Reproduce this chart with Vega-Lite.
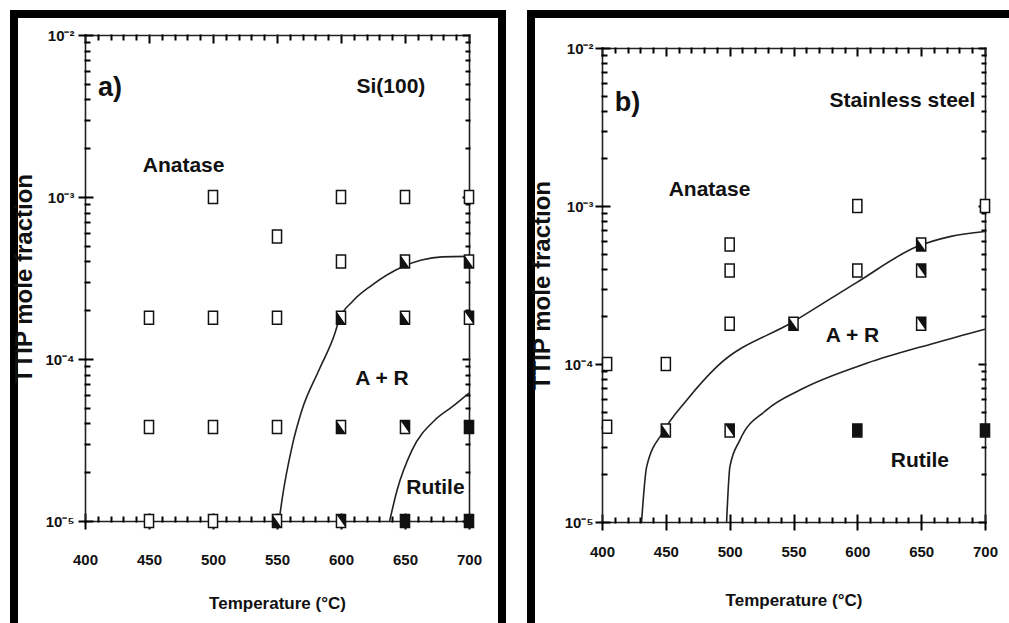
{
  "$schema": "https://vega.github.io/schema/vega-lite/v6.json",
  "background": "white",
  "padding": {"left": 8, "top": 10, "right": 0, "bottom": 0},
  "spacing": 20,
  "datasets": {
    "ptsA": [
      {"t": 450, "f": 1.8e-4, "type": "A"}, {"t": 450, "f": 3.8e-5, "type": "A"}, {"t": 450, "f": 1e-5, "type": "A"},
      {"t": 500, "f": 1e-3, "type": "A"}, {"t": 500, "f": 1.8e-4, "type": "A"}, {"t": 500, "f": 3.8e-5, "type": "A"}, {"t": 500, "f": 1e-5, "type": "A"},
      {"t": 550, "f": 5.7e-4, "type": "A"}, {"t": 550, "f": 1.8e-4, "type": "A"}, {"t": 550, "f": 3.8e-5, "type": "A"},
      {"t": 600, "f": 1e-3, "type": "A"}, {"t": 600, "f": 4e-4, "type": "A"}, {"t": 650, "f": 1e-3, "type": "A"}, {"t": 700, "f": 1e-3, "type": "A"},
      {"t": 550, "f": 1e-5, "type": "M1"}, {"t": 600, "f": 1.8e-4, "type": "M1"}, {"t": 600, "f": 3.8e-5, "type": "M1"},
      {"t": 650, "f": 4e-4, "type": "M1"}, {"t": 650, "f": 1.8e-4, "type": "M1"}, {"t": 700, "f": 4e-4, "type": "M1"},
      {"t": 700, "f": 1.8e-4, "type": "M2"}, {"t": 650, "f": 3.8e-5, "type": "M2"}, {"t": 600, "f": 1e-5, "type": "M2"},
      {"t": 700, "f": 3.8e-5, "type": "R"}, {"t": 650, "f": 1e-5, "type": "R"}, {"t": 700, "f": 1e-5, "type": "R"}
    ],
    "ptsB": [
      {"t": 404, "f": 1e-4, "type": "A"}, {"t": 404, "f": 4e-5, "type": "A"}, {"t": 450, "f": 1e-4, "type": "A"},
      {"t": 500, "f": 5.7e-4, "type": "A"}, {"t": 500, "f": 3.9e-4, "type": "A"}, {"t": 500, "f": 1.8e-4, "type": "A"},
      {"t": 600, "f": 1e-3, "type": "A"}, {"t": 600, "f": 3.9e-4, "type": "A"}, {"t": 700, "f": 1e-3, "type": "A"},
      {"t": 450, "f": 3.8e-5, "type": "M1"}, {"t": 550, "f": 1.8e-4, "type": "M1"}, {"t": 650, "f": 5.7e-4, "type": "M1"},
      {"t": 500, "f": 3.8e-5, "type": "M2"}, {"t": 650, "f": 3.9e-4, "type": "M2"}, {"t": 650, "f": 1.8e-4, "type": "M2"},
      {"t": 600, "f": 3.8e-5, "type": "R"}, {"t": 700, "f": 3.8e-5, "type": "R"}
    ],
    "curvesA": [
      {"c": "1", "t": 551.6, "f": 1e-5}, {"c": "1", "t": 553.9, "f": 1.35e-5}, {"c": "1", "t": 561.7, "f": 2.87e-5},
      {"c": "1", "t": 569.5, "f": 4.84e-5}, {"c": "1", "t": 582.8, "f": 8.55e-5}, {"c": "1", "t": 595.3, "f": 1.445e-4},
      {"c": "1", "t": 598.4, "f": 1.74e-4}, {"c": "1", "t": 608.6, "f": 2.25e-4}, {"c": "1", "t": 624.2, "f": 2.86e-4}, {"c": "1", "t": 647.7, "f": 3.7e-4},
      {"c": "1", "t": 663, "f": 4.08e-4}, {"c": "1", "t": 678.9, "f": 4.27e-4}, {"c": "1", "t": 700, "f": 4.3e-4},
      {"c": "2", "t": 638, "f": 1e-5}, {"c": "2", "t": 643.8, "f": 1.55e-5}, {"c": "2", "t": 655.5, "f": 2.74e-5},
      {"c": "2", "t": 673.4, "f": 4.2e-5}, {"c": "2", "t": 686.7, "f": 5.06e-5}, {"c": "2", "t": 700, "f": 6.17e-5}
    ],
    "curvesB": [
      {"c": "1", "t": 431, "f": 1e-5}, {"c": "1", "t": 435, "f": 2.24e-5}, {"c": "1", "t": 448, "f": 3.73e-5},
      {"c": "1", "t": 466.3, "f": 5.9e-5}, {"c": "1", "t": 489.8, "f": 9.6e-5}, {"c": "1", "t": 549.8, "f": 1.85e-4},
      {"c": "1", "t": 600, "f": 3.3e-4}, {"c": "1", "t": 646.4, "f": 5.52e-4}, {"c": "1", "t": 672.5, "f": 6.4e-4},
      {"c": "1", "t": 700, "f": 6.9e-4},
      {"c": "2", "t": 497.6, "f": 1e-5}, {"c": "2", "t": 500.2, "f": 2.24e-5}, {"c": "2", "t": 508, "f": 3.3e-5},
      {"c": "2", "t": 529, "f": 5.12e-5}, {"c": "2", "t": 555, "f": 6.84e-5}, {"c": "2", "t": 607.3, "f": 1.01e-4},
      {"c": "2", "t": 659.5, "f": 1.35e-4}, {"c": "2", "t": 700, "f": 1.66e-4}
    ],
    "txtA": [
      {"t": 419.5, "f": 4.7e-3, "label": "a)", "kind": "panel"},
      {"t": 639, "f": 4.77e-3, "label": "Si(100)", "kind": "region"},
      {"t": 477, "f": 1.55e-3, "label": "Anatase", "kind": "region"},
      {"t": 632, "f": 7.54e-5, "label": "A + R", "kind": "region"},
      {"t": 673.8, "f": 1.6e-5, "label": "Rutile", "kind": "region"}
    ],
    "txtB": [
      {"t": 420, "f": 4.49e-3, "label": "b)", "kind": "panel"},
      {"t": 635.3, "f": 4.63e-3, "label": "Stainless steel", "kind": "region"},
      {"t": 484.2, "f": 1.26e-3, "label": "Anatase", "kind": "region"},
      {"t": 596.2, "f": 1.5e-4, "label": "A + R", "kind": "region"},
      {"t": 649, "f": 2.43e-5, "label": "Rutile", "kind": "region"}
    ]
  },
  "hconcat": [
    {
      "width": 488,
      "height": 617,
      "resolve": {"axis": {"x": "independent", "y": "independent"}},
      "layer": [
        {
          "data": {"name": "curvesA"},
          "mark": {"type": "line", "interpolate": "monotone", "color": "#222", "strokeWidth": 1.6},
          "encoding": {
            "x": {"field": "t", "type": "quantitative", "scale": {"domain": [400, 700], "range": [71, 455], "nice": false, "zero": false},
              "axis": {"orient": "bottom", "offset": -110, "values": [400, 450, 500, 550, 600, 650, 700], "ticks": true, "tickSize": 7, "labelPadding": 24, "title": "Temperature (°C)", "titlePadding": 28}},
            "y": {"field": "f", "type": "quantitative", "scale": {"type": "log", "domain": [1e-5, 1e-2], "range": [507, 21], "nice": false},
              "axis": {"orient": "left", "offset": -71, "values": [1e-5, 1e-4, 1e-3, 1e-2], "ticks": true, "tickSize": 6, "labelPadding": 5, "labelFontSize": 15,
                "labelExpr": "datum.value < 2e-5 ? '10⁻⁵' : datum.value < 2e-4 ? '10⁻⁴' : datum.value < 2e-3 ? '10⁻³' : '10⁻²'",
                "title": "TTIP mole fraction", "titlePadding": 8, "titleFontSize": 24}},
            "detail": {"field": "c"}
          }
        },
        {
          "data": {"name": "ptsA"},
          "mark": {"type": "point", "shape": "M-0.7,-1L0.7,-1L0.7,1L-0.7,1Z", "filled": true, "size": 169, "stroke": "#111", "strokeWidth": 1.5, "opacity": 1},
          "encoding": {
            "x": {"field": "t", "type": "quantitative", "scale": {"domain": [400, 700], "range": [71, 455], "nice": false, "zero": false},
              "axis": {"orient": "bottom", "offset": -110, "values": [410, 420, 430, 440, 460, 470, 480, 490, 510, 520, 530, 540, 560, 570, 580, 590, 610, 620, 630, 640, 660, 670, 680, 690], "ticks": true, "tickSize": -4, "labels": false, "domain": false, "title": null}},
            "y": {"field": "f", "type": "quantitative", "scale": {"type": "log", "domain": [1e-5, 1e-2], "range": [507, 21], "nice": false},
              "axis": {"orient": "left", "offset": -71, "values": [2e-5, 3e-5, 4e-5, 5e-5, 6e-5, 7e-5, 8e-5, 9e-5, 2e-4, 3e-4, 4e-4, 5e-4, 6e-4, 7e-4, 8e-4, 9e-4, 2e-3, 3e-3, 4e-3, 5e-3, 6e-3, 7e-3, 8e-3, 9e-3], "ticks": true, "tickSize": -4, "labels": false, "domain": false, "title": null}},
            "fill": {"condition": {"test": "datum.type === 'R'", "value": "#111"}, "value": "white"}
          }
        },
        {
          "data": {"name": "ptsA"},
          "transform": [{"filter": "datum.type === 'M1'"}],
          "mark": {"type": "point", "shape": "M-0.7,-1L-0.7,1L0.7,1Z", "filled": true, "size": 169, "color": "#111", "strokeWidth": 0, "opacity": 1},
          "encoding": {
            "x": {"field": "t", "type": "quantitative", "scale": {"domain": [400, 700], "range": [71, 455], "nice": false, "zero": false},
              "axis": {"orient": "top", "offset": -21, "values": [400, 450, 500, 550, 600, 650, 700], "ticks": true, "tickSize": -7, "labels": false, "domain": true, "title": null}},
            "y": {"field": "f", "type": "quantitative", "scale": {"type": "log", "domain": [1e-5, 1e-2], "range": [507, 21], "nice": false},
              "axis": {"orient": "right", "offset": -33, "values": [1e-5, 1e-4, 1e-3, 1e-2], "ticks": true, "tickSize": -6, "labels": false, "domain": true, "title": null}}
          }
        },
        {
          "data": {"name": "ptsA"},
          "transform": [{"filter": "datum.type === 'M2'"}],
          "mark": {"type": "point", "shape": "M-0.7,-1L0.7,-1L0.7,1Z", "filled": true, "size": 169, "color": "#111", "strokeWidth": 0, "opacity": 1},
          "encoding": {
            "x": {"field": "t", "type": "quantitative", "scale": {"domain": [400, 700], "range": [71, 455], "nice": false, "zero": false},
              "axis": {"orient": "top", "offset": -21, "values": [410, 420, 430, 440, 460, 470, 480, 490, 510, 520, 530, 540, 560, 570, 580, 590, 610, 620, 630, 640, 660, 670, 680, 690], "ticks": true, "tickSize": -4, "labels": false, "domain": false, "title": null}},
            "y": {"field": "f", "type": "quantitative", "scale": {"type": "log", "domain": [1e-5, 1e-2], "range": [507, 21], "nice": false},
              "axis": {"orient": "right", "offset": -33, "values": [2e-5, 3e-5, 4e-5, 5e-5, 6e-5, 7e-5, 8e-5, 9e-5, 2e-4, 3e-4, 4e-4, 5e-4, 6e-4, 7e-4, 8e-4, 9e-4, 2e-3, 3e-3, 4e-3, 5e-3, 6e-3, 7e-3, 8e-3, 9e-3], "ticks": true, "tickSize": -3, "labels": false, "domain": false, "title": null}}
          }
        },
        {
          "data": {"name": "txtA"},
          "transform": [{"filter": "datum.kind === 'panel'"}],
          "mark": {"type": "text", "fontSize": 27, "fontWeight": "bold", "align": "center", "baseline": "middle", "color": "#111"},
          "encoding": {
            "x": {"field": "t", "type": "quantitative", "scale": {"domain": [400, 700], "range": [71, 455], "nice": false, "zero": false},
              "axis": {"orient": "bottom", "offset": -110, "values": [400, 450, 500, 550, 600, 650, 700], "ticks": true, "tickSize": -7, "labels": false, "domain": false, "title": null}},
            "y": {"field": "f", "type": "quantitative", "scale": {"type": "log", "domain": [1e-5, 1e-2], "range": [507, 21], "nice": false},
              "axis": {"orient": "left", "offset": -71, "values": [1e-5, 1e-4, 1e-3, 1e-2], "ticks": true, "tickSize": -7, "labels": false, "domain": false, "title": null}},
            "text": {"field": "label"}
          }
        },
        {
          "data": {"name": "txtA"},
          "transform": [{"filter": "datum.kind === 'region'"}],
          "mark": {"type": "text", "fontSize": 21, "fontWeight": "bold", "align": "center", "baseline": "middle", "color": "#111"},
          "encoding": {
            "x": {"field": "t", "type": "quantitative", "axis": null},
            "y": {"field": "f", "type": "quantitative", "axis": null},
            "text": {"field": "label"}
          }
        }
      ]
    },
    {
      "width": 484,
      "height": 617,
      "resolve": {"axis": {"x": "independent", "y": "independent"}},
      "layer": [
        {
          "data": {"name": "curvesB"},
          "mark": {"type": "line", "interpolate": "monotone", "color": "#222", "strokeWidth": 1.6},
          "encoding": {
            "x": {"field": "t", "type": "quantitative", "scale": {"domain": [400, 700], "range": [71, 454], "nice": false, "zero": false},
              "axis": {"orient": "bottom", "offset": -109, "values": [400, 450, 500, 550, 600, 650, 700], "ticks": true, "tickSize": 7, "labelPadding": 15, "title": "Temperature (°C)", "titlePadding": 33}},
            "y": {"field": "f", "type": "quantitative", "scale": {"type": "log", "domain": [1e-5, 1e-2], "range": [508, 34], "nice": false},
              "axis": {"orient": "left", "offset": -71, "values": [1e-5, 1e-4, 1e-3, 1e-2], "ticks": true, "tickSize": 6, "labelPadding": 3, "labelFontSize": 15,
                "labelExpr": "datum.value < 2e-5 ? '10⁻⁵' : datum.value < 2e-4 ? '10⁻⁴' : datum.value < 2e-3 ? '10⁻³' : '10⁻²'",
                "title": "TTIP mole fraction", "titlePadding": 9, "titleFontSize": 24}},
            "detail": {"field": "c"}
          }
        },
        {
          "data": {"name": "ptsB"},
          "mark": {"type": "point", "shape": "M-0.7,-1L0.7,-1L0.7,1L-0.7,1Z", "filled": true, "size": 169, "stroke": "#111", "strokeWidth": 1.5, "opacity": 1},
          "encoding": {
            "x": {"field": "t", "type": "quantitative", "scale": {"domain": [400, 700], "range": [71, 454], "nice": false, "zero": false},
              "axis": {"orient": "bottom", "offset": -109, "values": [410, 420, 430, 440, 460, 470, 480, 490, 510, 520, 530, 540, 560, 570, 580, 590, 610, 620, 630, 640, 660, 670, 680, 690], "ticks": true, "tickSize": -4, "labels": false, "domain": false, "title": null}},
            "y": {"field": "f", "type": "quantitative", "scale": {"type": "log", "domain": [1e-5, 1e-2], "range": [508, 34], "nice": false},
              "axis": {"orient": "left", "offset": -71, "values": [2e-5, 3e-5, 4e-5, 5e-5, 6e-5, 7e-5, 8e-5, 9e-5, 2e-4, 3e-4, 4e-4, 5e-4, 6e-4, 7e-4, 8e-4, 9e-4, 2e-3, 3e-3, 4e-3, 5e-3, 6e-3, 7e-3, 8e-3, 9e-3], "ticks": true, "tickSize": -4, "labels": false, "domain": false, "title": null}},
            "fill": {"condition": {"test": "datum.type === 'R'", "value": "#111"}, "value": "white"}
          }
        },
        {
          "data": {"name": "ptsB"},
          "transform": [{"filter": "datum.type === 'M1'"}],
          "mark": {"type": "point", "shape": "M-0.7,-1L-0.7,1L0.7,1Z", "filled": true, "size": 169, "color": "#111", "strokeWidth": 0, "opacity": 1},
          "encoding": {
            "x": {"field": "t", "type": "quantitative", "scale": {"domain": [400, 700], "range": [71, 454], "nice": false, "zero": false},
              "axis": {"orient": "top", "offset": -34, "values": [400, 450, 500, 550, 600, 650, 700], "ticks": true, "tickSize": -7, "labels": false, "domain": true, "title": null}},
            "y": {"field": "f", "type": "quantitative", "scale": {"type": "log", "domain": [1e-5, 1e-2], "range": [508, 34], "nice": false},
              "axis": {"orient": "right", "offset": -30, "values": [1e-5, 1e-4, 1e-3, 1e-2], "ticks": true, "tickSize": -6, "labels": false, "domain": true, "title": null}}
          }
        },
        {
          "data": {"name": "ptsB"},
          "transform": [{"filter": "datum.type === 'M2'"}],
          "mark": {"type": "point", "shape": "M-0.7,-1L0.7,-1L0.7,1Z", "filled": true, "size": 169, "color": "#111", "strokeWidth": 0, "opacity": 1},
          "encoding": {
            "x": {"field": "t", "type": "quantitative", "scale": {"domain": [400, 700], "range": [71, 454], "nice": false, "zero": false},
              "axis": {"orient": "top", "offset": -34, "values": [410, 420, 430, 440, 460, 470, 480, 490, 510, 520, 530, 540, 560, 570, 580, 590, 610, 620, 630, 640, 660, 670, 680, 690], "ticks": true, "tickSize": -4, "labels": false, "domain": false, "title": null}},
            "y": {"field": "f", "type": "quantitative", "scale": {"type": "log", "domain": [1e-5, 1e-2], "range": [508, 34], "nice": false},
              "axis": {"orient": "right", "offset": -30, "values": [2e-5, 3e-5, 4e-5, 5e-5, 6e-5, 7e-5, 8e-5, 9e-5, 2e-4, 3e-4, 4e-4, 5e-4, 6e-4, 7e-4, 8e-4, 9e-4, 2e-3, 3e-3, 4e-3, 5e-3, 6e-3, 7e-3, 8e-3, 9e-3], "ticks": true, "tickSize": -3, "labels": false, "domain": false, "title": null}}
          }
        },
        {
          "data": {"name": "txtB"},
          "transform": [{"filter": "datum.kind === 'panel'"}],
          "mark": {"type": "text", "fontSize": 27, "fontWeight": "bold", "align": "center", "baseline": "middle", "color": "#111"},
          "encoding": {
            "x": {"field": "t", "type": "quantitative", "scale": {"domain": [400, 700], "range": [71, 454], "nice": false, "zero": false},
              "axis": {"orient": "bottom", "offset": -109, "values": [400, 450, 500, 550, 600, 650, 700], "ticks": true, "tickSize": -7, "labels": false, "domain": false, "title": null}},
            "y": {"field": "f", "type": "quantitative", "scale": {"type": "log", "domain": [1e-5, 1e-2], "range": [508, 34], "nice": false},
              "axis": {"orient": "left", "offset": -71, "values": [1e-5, 1e-4, 1e-3, 1e-2], "ticks": true, "tickSize": -7, "labels": false, "domain": false, "title": null}},
            "text": {"field": "label"}
          }
        },
        {
          "data": {"name": "txtB"},
          "transform": [{"filter": "datum.kind === 'region'"}],
          "mark": {"type": "text", "fontSize": 21, "fontWeight": "bold", "align": "center", "baseline": "middle", "color": "#111"},
          "encoding": {
            "x": {"field": "t", "type": "quantitative", "axis": null},
            "y": {"field": "f", "type": "quantitative", "axis": null},
            "text": {"field": "label"}
          }
        }
      ]
    }
  ],
  "config": {
    "view": {"stroke": "black", "strokeWidth": 8, "fill": "white"},
    "font": "Liberation Sans",
    "axis": {
      "grid": false,
      "ticks": true,
      "labelFlush": false,
      "domainColor": "#222",
      "domainWidth": 1.6,
      "tickColor": "black",
      "tickWidth": 2,
      "tickOpacity": 1,
      "tickCap": "square",
      "labelColor": "#111",
      "labelFontWeight": "bold",
      "labelFontSize": 15,
      "labelAngle": 0,
      "titleColor": "#111",
      "titleFontWeight": "bold",
      "titleFontSize": 17
    }
  }
}
